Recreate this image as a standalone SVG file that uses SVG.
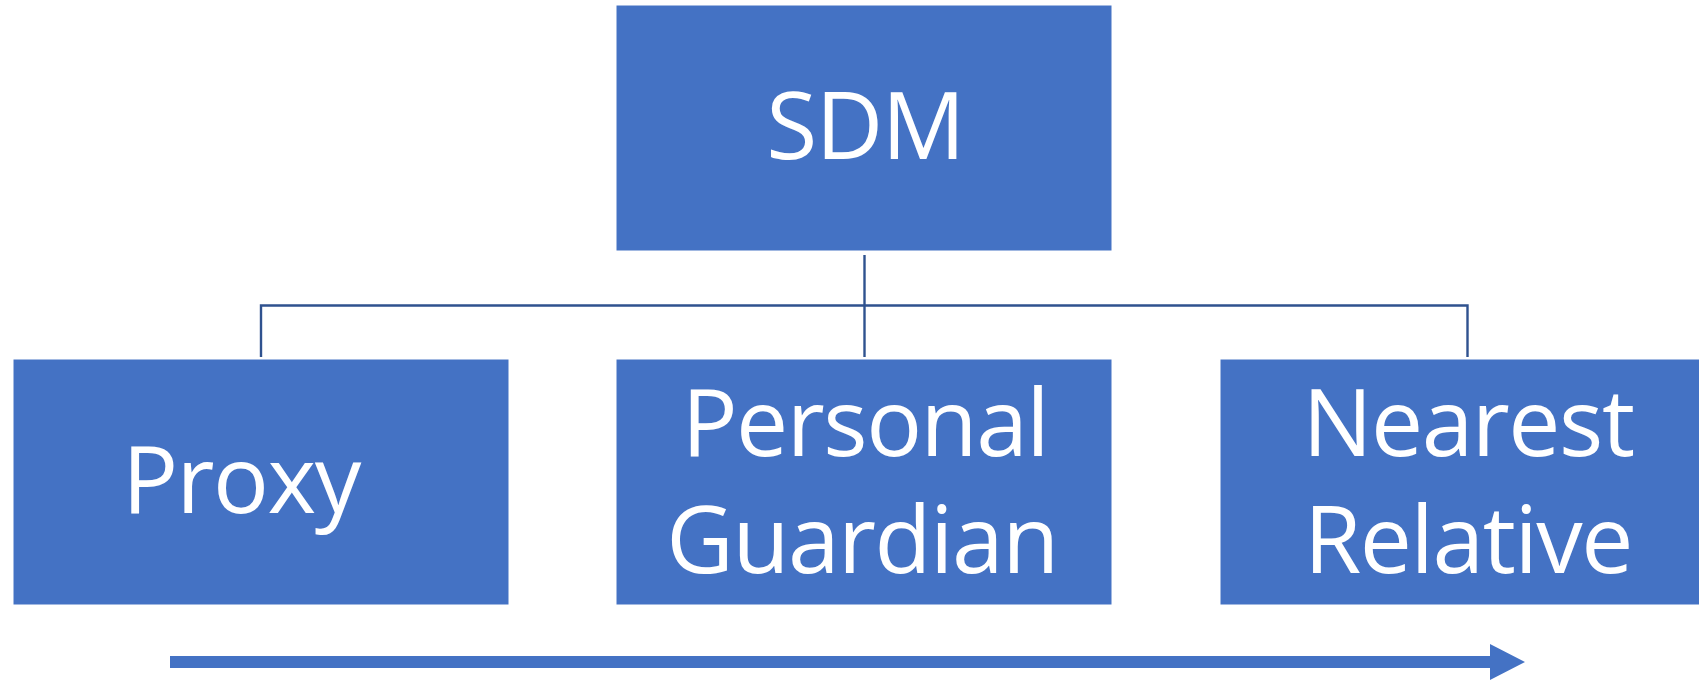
<svg xmlns="http://www.w3.org/2000/svg" width="1699" height="680" viewBox="0 0 1699 680">
<style>
.box{fill:#4472C4;stroke:#ffffff;stroke-width:1}
.lbl{font-family:"Open Sans","Noto Sans","Liberation Sans",sans-serif;font-size:93px;letter-spacing:-1.5px;fill:#ffffff;text-anchor:middle}
.conn{fill:none;stroke:#2F528F;stroke-width:2.4}
</style>
<rect width="1699" height="680" fill="#ffffff"/>
<g id="connectors">
<path class="conn" d="M864.5,255 V357"/>
<path class="conn" d="M261,357 V305.5 H1467.5 V357"/>
</g>
<g id="sdm">
<rect class="box" x="616" y="5" width="496" height="246"/>
<text class="lbl" x="865" y="159">SDM</text>
</g>
<g id="proxy">
<rect class="box" x="13" y="359" width="496" height="246"/>
<text class="lbl" x="241" y="513">Proxy</text>
</g>
<g id="personal-guardian">
<rect class="box" x="616" y="359" width="496" height="246"/>
<text class="lbl" x="865" y="455.5">Personal</text>
<text class="lbl" x="862" y="572.5">Guardian</text>
</g>
<g id="nearest-relative">
<rect class="box" x="1220" y="359" width="496" height="246"/>
<text class="lbl" x="1468" y="455.5">Nearest</text>
<text class="lbl" x="1468" y="572.5">Relative</text>
</g>
<g id="arrow">
<path d="M170,656 H1490 V644 L1525,662 L1490,680 V668 H170 Z" fill="#4472C4"/>
</g>
</svg>
